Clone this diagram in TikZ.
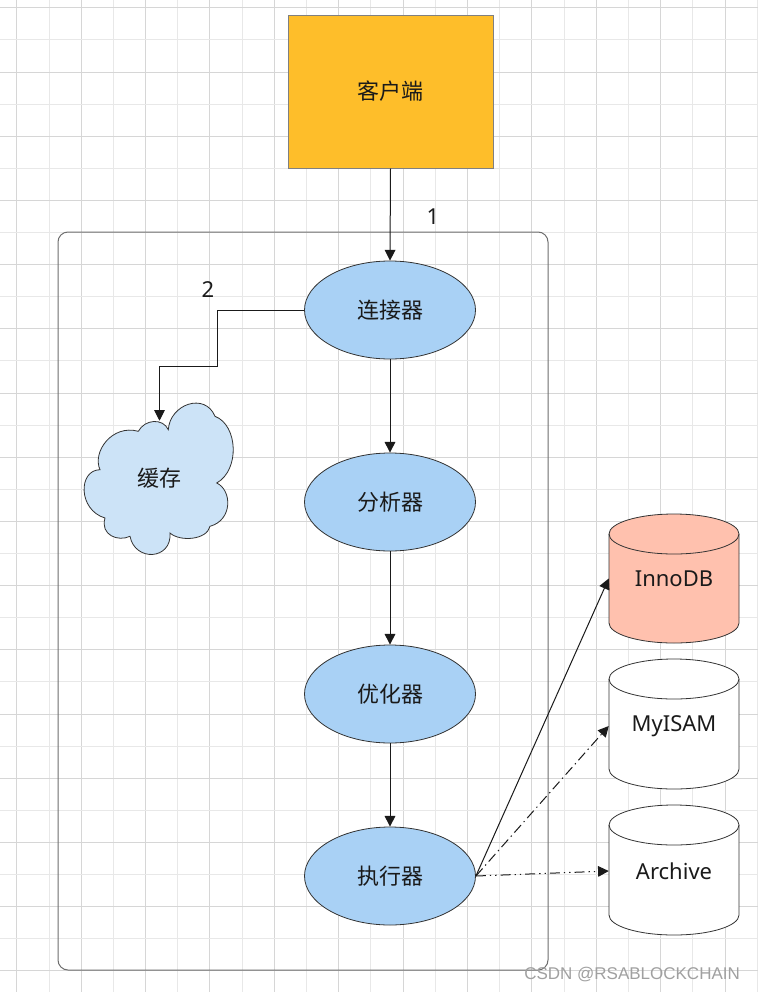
\documentclass[tikz,border=0pt]{standalone}
\usepackage{fontspec}
\setmainfont{Noto Sans}
\newfontfamily\cjk{Noto Sans CJK SC}
\newfontfamily\wmfont{Liberation Sans}
\usetikzlibrary{shapes.geometric,arrows.meta}
\definecolor{gridd}{HTML}{D6D6D6}
\definecolor{gridl}{HTML}{E8E8E8}
\definecolor{edgec}{HTML}{333333}
\definecolor{linec}{HTML}{1A1A1A}
\definecolor{framec}{HTML}{6E6E6E}
\definecolor{clientb}{HTML}{808080}
\definecolor{clientc}{HTML}{FEBE2A}
\definecolor{procblue}{HTML}{A9D1F5}
\definecolor{cloudc}{HTML}{CCE3F7}
\definecolor{innoc}{HTML}{FFC1AE}
\definecolor{txt}{HTML}{1A1A1A}
\definecolor{wmc}{HTML}{A0A0A0}
\begin{document}
\begin{tikzpicture}[x=0.75pt,y=0.75pt,
  proc/.style={ellipse, draw=edgec, fill=procblue, line width=0.6pt,
    minimum width=128.25pt, minimum height=73.5pt, inner sep=0pt,
    font=\cjk\fontsize{16.5}{18}\selectfont, text=txt},
  arr/.style={-{Triangle[length=8pt,width=8pt]}, line width=0.75pt, draw=linec},
  dbbox/.style={rectangle, minimum width=97.5pt, minimum height=96.75pt, inner sep=0pt,
    font=\fontsize{16.5}{18}\selectfont, text=txt},
  dbshape/.style={draw=edgec, line width=0.6pt},
  lbl/.style={font=\fontsize{16.5}{18}\selectfont, text=txt, inner sep=0pt}]
\useasboundingbox (0,0) rectangle (758,-992);
\fill[white] (0,0) rectangle (758,-992);
% grid
\foreach \k in {0,...,23}{%
  \pgfmathsetmacro\gx{round(16.3+32.2*\k)+0.5}%
  \ifodd\k\def\gc{gridl}\else\def\gc{gridd}\fi
  \draw[\gc, line width=0.75pt] (\gx,0) -- (\gx,-992);}
\foreach \k in {0,...,30}{%
  \pgfmathsetmacro\gy{round(7.3+32.1*\k)+0.5}%
  \ifodd\k\def\gc{gridl}\else\def\gc{gridd}\fi
  \draw[\gc, line width=0.75pt] (0,-\gy) -- (758,-\gy);}
% frame
\node (frame) [draw=framec, line width=0.75pt, rounded corners=7.5pt, minimum width=367.5pt,
  minimum height=553.5pt, inner sep=0pt] at (303,-601) {};
% client
\node (client) [rectangle, draw=clientb, line width=0.75pt, fill=clientc, minimum width=153.75pt,
  minimum height=114.75pt, inner sep=0pt, font=\cjk\fontsize{16.5}{18}\selectfont, text=txt]
  at (390.5,-91.5) {客户端};
% processing
\node (conn) [proc] at (390,-310) {连接器};
\node (ana)  [proc] at (390,-502) {分析器};
\node (opt)  [proc] at (390,-694) {优化器};
\node (exec) [proc] at (390,-876) {执行器};
% cache cloud
\filldraw[draw=edgec, fill=cloudc, line width=0.6pt]
  (100,-469.7) .. controls (92,-452) and (112,-424) .. (138.3,-431.3)
  .. controls (145,-419) and (163,-418) .. (168.3,-429.7)
  .. controls (170,-404) and (205,-392) .. (215,-416.3)
  .. controls (238,-425) and (240,-470) .. (216.7,-483)
  .. controls (232,-490) and (233,-520) .. (210,-526.3)
  .. controls (207,-540) and (180,-542) .. (170,-533)
  .. controls (172,-560) and (135,-562) .. (130,-536.3)
  .. controls (118,-542) and (100,-535) .. (105,-518)
  .. controls (78,-510) and (78,-470) .. cycle;
\node (cache) [rectangle, minimum width=75pt, minimum height=85.5pt, inner sep=0pt,
  font=\cjk\fontsize{16.5}{18}\selectfont, text=txt] at (159.5,-478) {缓存};
% databases
\filldraw[dbshape, fill=innoc] (609,-534) -- (609,-623)
  arc[start angle=180, end angle=360, x radius=65, y radius=20] -- (739,-534)
  arc[start angle=0, end angle=180, x radius=65, y radius=20] -- cycle;
\draw[dbshape] (609,-534) arc[start angle=180, end angle=360, x radius=65, y radius=20];
\node (inno) [dbbox] at (674,-578.5) {InnoDB};
\filldraw[dbshape, fill=white] (609,-679) -- (609,-769)
  arc[start angle=180, end angle=360, x radius=65, y radius=20] -- (739,-679)
  arc[start angle=0, end angle=180, x radius=65, y radius=20] -- cycle;
\draw[dbshape] (609,-679) arc[start angle=180, end angle=360, x radius=65, y radius=20];
\node (myisam) [dbbox] at (674,-726) {MyISAM};
\filldraw[dbshape, fill=white] (609,-825) -- (609,-915)
  arc[start angle=180, end angle=360, x radius=65, y radius=20] -- (739,-825)
  arc[start angle=0, end angle=180, x radius=65, y radius=20] -- cycle;
\draw[dbshape] (609,-825) arc[start angle=180, end angle=360, x radius=65, y radius=20];
\node (archive) [dbbox] at (674,-871) {Archive};
% connectors
\draw[arr] (client.south) -- (conn.north);
\draw[arr] (conn.south) -- (ana.north);
\draw[arr] (ana.south) -- (opt.north);
\draw[arr] (opt.south) -- (exec.north);
\draw[arr] (conn.west) -- (217,-310) -- (217,-366) -| (cache.north);
\draw[arr] (exec.east) -- (inno.west);
\draw[arr, dash pattern=on 7.5pt off 3pt on 1pt off 3pt] (exec.east) -- (myisam.west);
\draw[arr, dash pattern=on 7.5pt off 3pt on 1pt off 3pt on 1pt off 3pt] (exec.east) -- (archive.west);
% labels
\node (l1) [lbl] at (433,-217) {1};
\node (l2) [lbl] at (208,-290) {2};
\node (wm) [anchor=west, inner sep=0pt, text=wmc, font=\wmfont\fontsize{12.75}{14}\selectfont]
  at (524,-975) {CSDN @RSABLOCKCHAIN};
\end{tikzpicture}
\end{document}
